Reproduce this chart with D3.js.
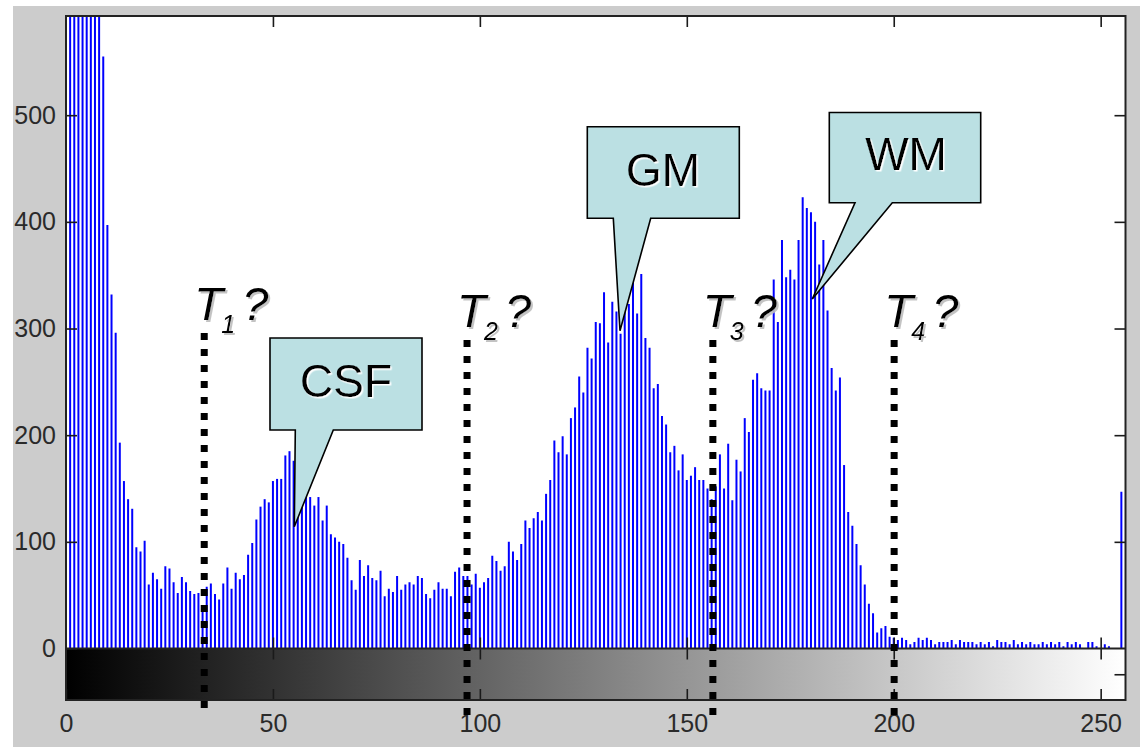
<!DOCTYPE html>
<html><head><meta charset="utf-8">
<script src="https://cdn.jsdelivr.net/npm/d3@7"></script>
<style>body{margin:0;background:#fff;}svg{display:block;}</style>
</head><body>
<svg id="chart" width="1146" height="747"></svg>
<script>
// ---------- data ----------
const grayLevels = d3.range(256);
const pixelCounts = [
  4200,3100,2600,2100,1700,1400,1100,900,700,555,
  397,332,296,193,157,140,131,95,91,101,
  60,71,65,56,77,75,62,52,67,62,
  54,51,52,40,58,61,51,46,61,76,
  56,71,65,69,88,99,121,133,140,137,
  157,159,159,181,185,176,165,150,151,142,
  134,142,120,134,107,104,100,98,85,64,
  55,83,68,78,66,64,73,49,56,53,
  68,55,60,62,60,68,66,51,47,55,
  62,56,56,49,72,76,68,68,60,70,
  57,62,66,87,82,73,77,100,91,83,
  98,120,113,122,128,120,145,158,195,184,
  199,182,216,226,255,240,282,272,306,305,
  334,287,325,316,295,318,323,345,314,351,
  291,282,244,248,218,210,184,190,167,182,
  158,162,170,158,158,150,140,152,182,150,
  192,139,177,166,216,203,252,258,244,242,
  242,346,306,383,348,355,346,383,423,413,
  409,400,360,383,317,263,242,254,172,128,
  115,98,78,60,42,33,15,19,21,11,
  10,8,10,8,4,6,10,8,10,8,
  4,6,6,6,8,4,8,6,6,6,
  4,6,4,6,2,8,6,6,4,8,
  4,6,4,6,4,4,6,4,6,4,
  6,2,6,4,6,4,0,6,6,2,
  0,4,2,0,0,147
];
const xTickValues = [0,50,100,150,200,250];
const yTickValues = [0,100,200,300,400,500];
const thresholdValues = [33.4, 96.9, 156.3, 200.1];
const thresholdSubs = ["1","2","3","4"];
const calloutLabels = ["CSF","GM","WM"];

// ---------- layout ----------
const svg = d3.select("#chart");
const L = 66, R = 1125.5, T = 16, Z = 648.5, CB = 700;
const x = d3.scaleLinear().domain([0,256]).range([L,R]);
const y = d3.scaleLinear().domain([0,593]).range([Z,T]);
const yc = d3.scaleLinear().domain([0,1]).range([CB,Z]);

svg.append("rect").attr("x",0).attr("y",0).attr("width",1146).attr("height",747).attr("fill","#fff");
svg.append("rect").attr("x",13).attr("y",6).attr("width",1127).attr("height",741).attr("fill","#cccccc");
svg.append("rect").attr("x",L).attr("y",T).attr("width",R-L).attr("height",Z-T).attr("fill","#fff");

const defs = svg.append("defs");
defs.append("clipPath").attr("id","plotClip").append("rect")
  .attr("x",L).attr("y",T).attr("width",R-L).attr("height",Z-T);
const grad = defs.append("linearGradient").attr("id","gray").attr("x1","0").attr("x2","1").attr("y1","0").attr("y2","0");
grad.append("stop").attr("offset","0").attr("stop-color","#000");
grad.append("stop").attr("offset","1").attr("stop-color","#fff");
defs.append("filter").attr("id","shGray").attr("x","-20%").attr("y","-20%").attr("width","140%").attr("height","140%")
  .append("feDropShadow").attr("dx",2).attr("dy",2).attr("stdDeviation",0.6).attr("flood-color","#bdbdbd").attr("flood-opacity",0.9);
defs.append("filter").attr("id","shWhite").attr("x","-20%").attr("y","-20%").attr("width","140%").attr("height","140%")
  .append("feDropShadow").attr("dx",1.5).attr("dy",1.5).attr("stdDeviation",0.4).attr("flood-color","#ffffff").attr("flood-opacity",1);

// colorbar
svg.append("rect").attr("x",L).attr("y",Z).attr("width",R-L).attr("height",CB-Z).attr("fill","url(#gray)");

// stems
svg.append("g").attr("clip-path","url(#plotClip)")
  .selectAll("line").data(grayLevels.filter(i=>pixelCounts[i]>0)).join("line")
  .attr("x1",i=>x(i)).attr("x2",i=>x(i))
  .attr("y1",y(0)).attr("y2",i=>y(pixelCounts[i]))
  .attr("stroke","#0000ff").attr("stroke-width",2);

// axes
const tickCol = "#1a1a1a";
function styleAxis(g){
  g.select(".domain").remove();
  g.selectAll(".tick line").attr("stroke",tickCol).attr("stroke-width",1.6);
  g.selectAll("text").attr("fill","#2a2a2a").attr("font-family","Liberation Sans, Arial, sans-serif").attr("font-size",25);
}
svg.append("g").attr("transform",`translate(${L},0)`)
  .call(d3.axisLeft(y).tickValues(yTickValues).tickSize(-11).tickPadding(10)).call(styleAxis);
svg.append("g").attr("transform",`translate(${R},0)`)
  .call(d3.axisRight(y).tickValues(yTickValues.slice(1)).tickSize(-11).tickFormat("")).call(styleAxis);
svg.append("g").attr("transform",`translate(0,${T})`)
  .call(d3.axisTop(x).tickValues(xTickValues.slice(1)).tickSize(-11).tickFormat("")).call(styleAxis);
svg.append("g").attr("transform",`translate(0,${Z})`)
  .call(d3.axisBottom(x).tickValues(xTickValues.slice(1)).tickSize(11).tickFormat("")).call(g=>{styleAxis(g);g.selectAll(".tick line").attr("y2",-11);});
svg.append("g").attr("transform",`translate(0,${Z})`)
  .call(d3.axisTop(x).tickValues(xTickValues.slice(1)).tickSize(-11).tickFormat("")).call(styleAxis);
svg.append("g").attr("transform",`translate(0,${CB})`)
  .call(d3.axisBottom(x).tickValues(xTickValues).tickSize(-11).tickPadding(14)).call(styleAxis);
svg.append("g").attr("transform",`translate(${R},0)`)
  .call(d3.axisRight(yc).tickValues([0.5]).tickSize(-11).tickFormat("")).call(styleAxis);

// borders
svg.append("rect").attr("x",L).attr("y",T).attr("width",R-L).attr("height",CB-T)
  .attr("fill","none").attr("stroke","#222").attr("stroke-width",2);
svg.append("line").attr("x1",L).attr("x2",R).attr("y1",Z).attr("y2",Z).attr("stroke","#222").attr("stroke-width",2);

// threshold markers
const tStart = [333,340,340,340];
const tBase  = [320,327,327,327];
const ann = svg.append("g");
thresholdValues.forEach((tv,k)=>{
  const lx = x(tv);
  ann.append("line").attr("x1",lx).attr("x2",lx).attr("y1",tStart[k]).attr("y2",tStart[k]+375)
    .attr("stroke","#000").attr("stroke-width",7).attr("stroke-dasharray","7 9");
  const t = ann.append("text").attr("font-family","Liberation Sans, Arial, sans-serif")
    .attr("font-style","italic").attr("fill","#000").attr("filter","url(#shGray)");
  const sx = lx - 10;
  t.append("tspan").attr("x",sx).attr("y",tBase[k]).attr("font-size",47).text("T");
  t.append("tspan").attr("x",sx+27).attr("y",tBase[k]+13).attr("font-size",25).text(thresholdSubs[k]);
  t.append("tspan").attr("x",sx+48).attr("y",tBase[k]).attr("font-size",47).text("?");
});

// callouts (pixel overlay geometry)
const boxes = [
  {x0:270,y0:338,x1:422,y1:430,b1:295.3,b2:333.3,tx:294.3,ty:526.7,cx:346,by:396.5},
  {x0:587.3,y0:126.7,x1:739.3,y1:218.3,b1:613.3,b2:650.7,tx:620,ty:330.7,cx:663,by:186},
  {x0:829.3,y0:112.5,x1:980.7,y1:202.7,b1:855,b2:892.3,tx:812.3,ty:299,cx:906,by:170}
];
boxes.forEach((b,k)=>{
  const p = `M${b.x0},${b.y0}H${b.x1}V${b.y1}H${b.b2}L${b.tx},${b.ty}L${b.b1},${b.y1}H${b.x0}Z`;
  ann.append("path").attr("d",p).attr("fill","#BBE0E3").attr("stroke","#000").attr("stroke-width",1.6).attr("stroke-linejoin","miter");
  ann.append("text").attr("x",b.cx).attr("y",b.by).attr("text-anchor","middle")
    .attr("font-family","Liberation Sans, Arial, sans-serif").attr("font-size",46).attr("fill","#000")
    .attr("filter","url(#shWhite)").text(calloutLabels[k]);
});
</script>
</body></html>
